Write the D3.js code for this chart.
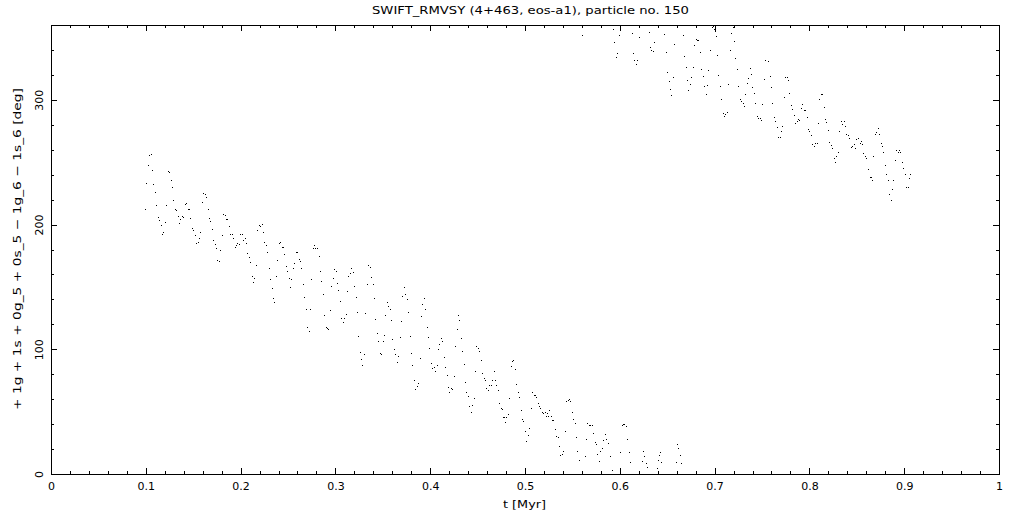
<!DOCTYPE html>
<html><head><meta charset="utf-8">
<script src="https://cdn.jsdelivr.net/npm/d3@7"></script>
<style>
body{margin:0;background:#fff}
svg{display:block;background:#fff}
text{font-family:"DejaVu Sans","Liberation Sans",sans-serif;fill:#000}
</style>
</head><body>
<svg id="chart" width="1021" height="511"></svg>
<script>
const titleText = "SWIFT_RMVSY (4+463, eos-a1), particle no. 150";
const xLabelText = "t [Myr]";
const yLabelText = "+ 1g + 1s + 0g_5 + 0s_5 \u2212 1g_6 \u2212 1s_6 [deg]";
const xDomain = [0, 1];
const yDomain = [0, 360];
const xTicks = [0, 0.1, 0.2, 0.3, 0.4, 0.5, 0.6, 0.7, 0.8, 0.9, 1];
const xTickLabels = ["0", "0.1", "0.2", "0.3", "0.4", "0.5", "0.6", "0.7", "0.8", "0.9", "1"];
const yTicks = [0, 100, 200, 300];
const yTickLabels = ["0", "100", "200", "300"];
const xMinorStep = 0.02;
const yMinorStep = 20;

// [t (Myr), angle (deg)]
const samples = [
[0.0994,212.2],[0.1005,233.1],[0.1026,247.5],[0.1036,255.5],[0.1057,256.3],[0.1068,243.5],[0.1079,232.3],[0.1100,225.9],[0.1110,215.4],[0.1131,205.8],
[0.1142,203.4],[0.1163,199.4],[0.1173,192.2],[0.1184,193.8],[0.1205,201.8],[0.1216,215.4],[0.1237,242.7],[0.1247,241.9],[0.1268,235.5],[0.1279,229.9],
[0.1289,219.4],[0.1310,212.2],[0.1321,211.4],[0.1342,206.6],[0.1353,201.0],[0.1363,204.2],[0.1384,206.6],[0.1395,205.8],[0.1416,216.2],[0.1426,217.0],
[0.1448,212.2],[0.1458,212.2],[0.1469,205.0],[0.1490,197.0],[0.1500,195.4],[0.1521,191.4],[0.1532,185.0],[0.1553,185.8],[0.1564,189.0],[0.1574,193.8],
[0.1595,217.8],[0.1606,225.1],[0.1627,224.3],[0.1637,221.9],[0.1658,212.2],[0.1669,205.0],[0.1679,202.6],[0.1701,196.2],[0.1711,187.4],[0.1732,184.2],
[0.1743,181.0],[0.1753,171.3],[0.1774,170.5],[0.1785,179.4],[0.1806,191.4],[0.1817,208.2],[0.1838,207.4],[0.1848,204.2],[0.1859,204.2],[0.1880,198.6],
[0.1890,192.2],[0.1911,192.2],[0.1922,189.0],[0.1943,181.8],[0.1954,183.4],[0.1964,185.0],[0.1985,184.2],[0.1996,192.2],[0.2017,192.2],[0.2027,187.4],
[0.2048,189.0],[0.2059,185.0],[0.2070,177.0],[0.2091,173.7],[0.2101,169.7],[0.2122,158.5],[0.2133,153.7],[0.2143,156.9],[0.2164,167.3],[0.2175,195.4],
[0.2196,199.4],[0.2207,198.6],[0.2228,200.2],[0.2238,193.8],[0.2249,185.8],[0.2270,183.4],[0.2280,177.8],[0.2302,164.9],
[0.2309,156.1],[0.2330,148.9],[0.2341,140.9],[0.2351,137.7],[0.2372,158.5],[0.2383,171.3],[0.2404,185.0],[0.2414,185.8],[0.2435,181.8],[0.2446,181.8],
[0.2457,176.2],[0.2478,166.5],[0.2488,162.5],[0.2509,156.9],[0.2520,149.7],[0.2530,156.1],[0.2551,164.9],[0.2562,168.9],[0.2583,177.8],[0.2594,177.8],
[0.2615,172.1],[0.2625,170.5],[0.2636,164.9],[0.2657,152.1],[0.2667,141.7],[0.2688,132.1],[0.2699,117.6],[0.2720,114.4],[0.2731,132.1],[0.2741,156.1],
[0.2762,181.0],[0.2773,183.4],[0.2783,181.0],[0.2804,181.0],[0.2826,174.5],[0.2836,162.5],[0.2847,154.5],[0.2868,144.1],[0.2878,127.2],[0.2899,117.6],
[0.2910,116.8],[0.2920,116.0],[0.2941,131.3],[0.2952,150.5],[0.2973,156.9],[0.2984,164.1],[0.3005,162.5],[0.3015,152.9],[0.3026,147.3],[0.3047,138.5],
[0.3057,124.8],[0.3079,121.6],[0.3089,124.8],[0.3110,128.0],[0.3121,146.5],[0.3131,158.5],[0.3152,160.9],[0.3163,164.9],[0.3184,161.7],[0.3195,150.5],
[0.3216,141.7],[0.3226,129.6],[0.3237,110.4],[0.3258,97.6],[0.3268,92.0],[0.3279,87.2],[0.3300,96.0],[0.3310,128.8],[0.3332,152.1],[0.3342,167.3],
[0.3363,165.7],[0.3374,157.7],[0.3395,152.1],[0.3405,140.9],[0.3416,124.0],[0.3437,112.8],[0.3448,106.4],[0.3469,96.8],[0.3479,96.0],[0.3500,106.4],
[0.3511,111.2],[0.3521,127.2],[0.3542,137.7],[0.3553,134.5],[0.3574,132.1],[0.3585,123.2],[0.3595,108.0],[0.3616,100.0],[0.3627,96.0],[0.3648,89.6],
[0.3658,94.4],[0.3679,109.6],[0.3690,122.4],[0.3701,142.5],[0.3722,149.7],[0.3732,144.1],[0.3753,140.1],[0.3764,129.6],[0.3785,110.4],[0.3796,96.8],
[0.3806,87.2],[0.3827,75.1],[0.3838,67.9],[0.3859,70.3],[0.3869,72.7],[0.3890,92.8],[0.3901,126.4],[0.3911,136.1],[0.3933,140.9],[0.3943,132.1],
[0.3964,117.6],[0.3975,109.6],[0.3985,100.8],[0.4006,88.8],[0.4017,84.7],[0.4038,85.5],[0.4049,82.3],[0.4070,87.2],[0.4080,100.0],[0.4091,104.0],
[0.4112,108.8],[0.4122,106.4],[0.4143,93.6],[0.4154,85.5],[0.4175,79.1],[0.4186,69.5],[0.4196,65.5],[0.4217,68.7],[0.4228,67.9],[0.4249,78.3],
[0.4259,102.4],[0.4280,116.0],[0.4291,127.2],[0.4302,123.2],[0.4323,108.8],[0.4333,98.4],[0.4354,88.0],[0.4365,73.5],[0.4375,65.5],[0.4396,62.3],
[0.4407,54.3],[0.4428,49.5],[0.4439,55.1],[0.4460,60.7],[0.4470,82.3],[0.4481,102.4],[0.4502,100.8],[0.4512,98.4],[0.4533,91.2],[0.4544,80.7],
[0.4565,76.7],[0.4576,75.1],[0.4586,68.7],[0.4607,67.1],[0.4618,71.1],[0.4639,71.1],[0.4649,75.1],[0.4671,82.3],[0.4681,75.1],[0.4692,71.1],
[0.4713,67.1],[0.4723,56.7],[0.4744,52.7],[0.4755,51.9],[0.4765,45.5],[0.4776,45.5],[0.4786,41.5],[0.4797,45.5],[0.4818,47.9],[0.4829,60.7],
[0.4850,86.4],[0.4860,90.4],[0.4871,91.2],[0.4892,83.9],[0.4903,71.9],[0.4924,65.5],[0.4934,61.5],[0.4955,51.1],[0.4966,43.9],[0.4976,42.3],
[0.4997,34.2],[0.5008,26.2],[0.5029,31.0],[0.5040,36.6],[0.5061,52.7],[0.5071,65.5],[0.5092,63.1],[0.5103,63.1],[0.5113,61.5],[0.5134,56.7],
[0.5145,54.3],[0.5156,52.7],[0.5177,49.5],[0.5187,48.7],[0.5208,49.5],[0.5219,46.3],[0.5229,48.7],[0.5240,46.3],[0.5250,51.1],[0.5271,46.3],
[0.5282,43.1],[0.5293,43.1],[0.5314,35.8],[0.5324,30.2],[0.5345,29.4],[0.5356,22.2],[0.5366,15.0],[0.5387,15.8],[0.5398,18.2],[0.5419,34.2],
[0.5430,58.3],[0.5451,59.1],[0.5461,59.9],[0.5472,58.3],[0.5493,49.5],[0.5503,43.9],[0.5525,40.7],[0.5535,29.4],[0.5546,18.2],[0.5567,11.0],
[0.5598,351.7],[0.5630,14.4],[0.5641,27.8],[0.5651,40.7],[0.5672,39.0],[0.5683,39.0],[0.5704,39.0],[0.5714,32.6],[0.5735,25.4],[0.5746,23.8],
[0.5756,15.8],[0.5778,10.2],[0.5788,18.4],[0.5809,20.8],[0.5820,27.0],[0.5841,31.8],[0.5851,27.8],[0.5872,24.6],[0.5894,14.4],[0.5915,3.0],
[0.5925,356.6],[0.5936,346.1],[0.5957,334.1],[0.5967,337.3],[0.5988,351.7],[0.5999,17.4],[0.6020,39.0],[0.6031,39.8],[0.6041,39.8],[0.6062,38.2],
[0.6073,27.8],[0.6094,17.4],[0.6104,9.4],[0.6126,353.3],[0.6136,337.3],[0.6147,331.7],[0.6168,328.5],[0.6178,331.7],[0.6199,350.1],[0.6231,10.2],
[0.6241,18.2],[0.6252,14.2],[0.6273,8.6],[0.6284,5.4],[0.6305,354.1],[0.6315,342.1],[0.6326,339.7],[0.6347,338.9],[0.6357,346.1],[0.6389,4.6],
[0.6400,11.0],[0.6410,15.0],[0.6421,17.4],[0.6431,9.4],[0.6463,352.5],[0.6484,338.1],[0.6494,322.1],[0.6516,314.9],[0.6526,308.4],[0.6537,303.6],
[0.6558,318.1],[0.6568,344.5],[0.6589,9.4],[0.6600,23.8],[0.6610,20.6],[0.6632,15.0],[0.6642,8.6],[0.6663,351.7],[0.6674,334.9],[0.6695,326.1],
[0.6705,315.7],[0.6716,307.6],[0.6737,312.5],[0.6748,318.1],[0.6769,326.1],[0.6779,343.7],[0.6800,348.5],[0.6811,347.7],[0.6821,347.7],[0.6842,338.1],
[0.6853,324.5],[0.6874,318.9],[0.6885,310.9],[0.6906,304.4],[0.6916,311.7],[0.6927,323.7],[0.6948,339.7],[0.6969,358.2],[0.6979,359.0],[0.6990,356.6],
[0.7001,355.0],[0.7011,350.9],[0.7022,335.7],[0.7032,319.7],[0.7053,310.9],[0.7064,300.4],[0.7085,289.2],[0.7095,286.8],[0.7106,288.4],[0.7127,290.0],
[0.7138,312.5],[0.7159,339.7],[0.7169,353.3],[0.7190,358.2],[0.7201,346.9],[0.7212,333.3],[0.7233,324.5],[0.7243,310.9],[0.7264,300.4],[0.7275,298.8],
[0.7296,297.2],[0.7306,294.8],[0.7317,304.4],[0.7338,313.3],[0.7348,317.3],[0.7369,325.3],[0.7380,320.5],[0.7391,310.1],[0.7412,305.2],[0.7422,297.2],
[0.7443,286.8],[0.7454,285.2],[0.7475,285.2],[0.7485,283.6],[0.7496,296.4],[0.7517,316.5],[0.7528,331.7],[0.7559,330.9],[0.7580,318.9],[0.7591,310.1],
[0.7601,297.2],[0.7623,286.0],[0.7633,282.8],[0.7654,278.0],[0.7665,270.0],[0.7686,270.0],[0.7696,274.8],[0.7707,278.8],[0.7728,302.0],[0.7739,318.1],
[0.7760,318.1],[0.7770,315.7],[0.7781,305.2],[0.7802,295.6],[0.7812,292.4],[0.7833,287.6],[0.7844,281.2],[0.7865,282.8],[0.7876,284.4],[0.7886,283.6],
[0.7907,293.2],[0.7918,296.4],[0.7939,291.6],[0.7949,291.6],[0.7971,286.0],[0.7981,276.4],[0.7992,274.8],[0.8013,271.6],[0.8023,264.3],[0.8044,262.7],
[0.8055,265.1],[0.8076,265.1],[0.8086,281.2],[0.8097,300.4],[0.8118,304.4],[0.8129,304.4],[0.8150,294.0],[0.8160,284.4],[0.8171,282.0],[0.8192,275.6],
[0.8202,265.9],[0.8224,263.5],[0.8234,261.1],[0.8255,253.1],[0.8266,249.9],[0.8276,254.7],[0.8297,257.9],[0.8308,274.8],[0.8329,282.8],[0.8340,280.4],
[0.8361,282.8],[0.8371,278.8],[0.8382,272.4],[0.8403,271.6],[0.8413,269.2],[0.8434,261.9],[0.8445,262.7],[0.8466,264.3],[0.8477,261.1],[0.8487,268.4],
[0.8508,269.2],[0.8529,265.1],[0.8540,266.8],[0.8550,264.3],[0.8561,257.1],[0.8582,254.7],[0.8593,253.1],[0.8614,244.3],[0.8635,237.9],[0.8645,237.9],
[0.8656,235.5],[0.8666,254.7],[0.8687,272.4],[0.8698,274.0],[0.8719,277.2],[0.8730,272.4],[0.8751,265.1],[0.8761,262.7],[0.8772,257.9],[0.8793,247.5],
[0.8803,240.3],[0.8824,235.5],[0.8835,224.3],[0.8856,219.4],[0.8867,228.3],[0.8877,235.5],[0.8898,251.5],[0.8909,259.5],[0.8930,257.9],[0.8940,259.5],
[0.8951,257.9],[0.8972,249.9],[0.8983,245.1],[0.9004,240.3],[0.9014,229.9],[0.9035,229.9],[0.9046,237.1],[0.9056,240.3]
];

const svg = d3.select("#chart");
const plotLeft = 51, plotRight = 999, plotTop = 25, plotBottom = 474;
const x = d3.scaleLinear().domain(xDomain).range([plotLeft, plotRight]);
const y = d3.scaleLinear().domain(yDomain).range([plotBottom, plotTop]);

const xMinor = d3.range(xDomain[0], xDomain[1] + 1e-9, xMinorStep);
const yMinor = d3.range(yDomain[0], yDomain[1] + 1e-9, yMinorStep);

function styleAxis(g) {
  g.attr("color", "#000").attr("font-family", null).attr("font-size", null);
  g.selectAll("path.domain").attr("stroke-width", 1).attr("shape-rendering", "crispEdges");
  g.selectAll(".tick line").attr("stroke-width", 1).attr("shape-rendering", "crispEdges");
}

// bottom
svg.append("g").attr("transform", `translate(0,${plotBottom})`)
  .call(d3.axisBottom(x).tickValues(xMinor).tickSizeInner(-3).tickSizeOuter(0).tickFormat(""))
  .call(styleAxis);
const gxb = svg.append("g").attr("transform", `translate(0,${plotBottom})`)
  .call(d3.axisBottom(x).tickValues(xTicks).tickSizeInner(-6).tickSizeOuter(0).tickPadding(8)
    .tickFormat((d, i) => xTickLabels[i]))
  .call(styleAxis);
gxb.selectAll("text").attr("font-size", 11);

// top
svg.append("g").attr("transform", `translate(0,${plotTop})`)
  .call(d3.axisTop(x).tickValues(xMinor).tickSizeInner(-3).tickSizeOuter(0).tickFormat(""))
  .call(styleAxis);
svg.append("g").attr("transform", `translate(0,${plotTop})`)
  .call(d3.axisTop(x).tickValues(xTicks).tickSizeInner(-6).tickSizeOuter(0).tickFormat(""))
  .call(styleAxis);

// left
svg.append("g").attr("transform", `translate(${plotLeft},0)`)
  .call(d3.axisLeft(y).tickValues(yMinor).tickSizeInner(-3).tickSizeOuter(0).tickFormat(""))
  .call(styleAxis);
const gyl = svg.append("g").attr("transform", `translate(${plotLeft},0)`)
  .call(d3.axisLeft(y).tickValues(yTicks).tickSizeInner(-6).tickSizeOuter(0)
    .tickFormat((d, i) => yTickLabels[i]))
  .call(styleAxis);
gyl.selectAll("text")
  .attr("x", 0).attr("dy", null).attr("font-size", 11)
  .attr("text-anchor", "middle")
  .attr("transform", "translate(-8.5,0) rotate(-90)");

// right
svg.append("g").attr("transform", `translate(${plotRight},0)`)
  .call(d3.axisRight(y).tickValues(yMinor).tickSizeInner(-3).tickSizeOuter(0).tickFormat(""))
  .call(styleAxis);
svg.append("g").attr("transform", `translate(${plotRight},0)`)
  .call(d3.axisRight(y).tickValues(yTicks).tickSizeInner(-6).tickSizeOuter(0).tickFormat(""))
  .call(styleAxis);

// points
svg.append("g").attr("shape-rendering", "crispEdges")
  .selectAll("rect").data(samples).join("rect")
  .attr("x", d => Math.round(x(d[0])))
  .attr("y", d => Math.round(y(d[1])))
  .attr("width", 1).attr("height", 1)
  .attr("fill", "#000");

// title & labels
svg.append("text").attr("x", 372).attr("y", 14).attr("font-size", 11)
  .attr("textLength", 317).attr("lengthAdjust", "spacingAndGlyphs")
  .text(titleText);
svg.append("text").attr("x", 503).attr("y", 508).attr("font-size", 11)
  .attr("textLength", 43).attr("lengthAdjust", "spacingAndGlyphs")
  .text(xLabelText);
svg.append("text").attr("transform", "translate(21,249) rotate(-90)")
  .attr("text-anchor", "middle").attr("font-size", 11)
  .attr("textLength", 322).attr("lengthAdjust", "spacingAndGlyphs")
  .text(yLabelText);
</script>
</body></html>
